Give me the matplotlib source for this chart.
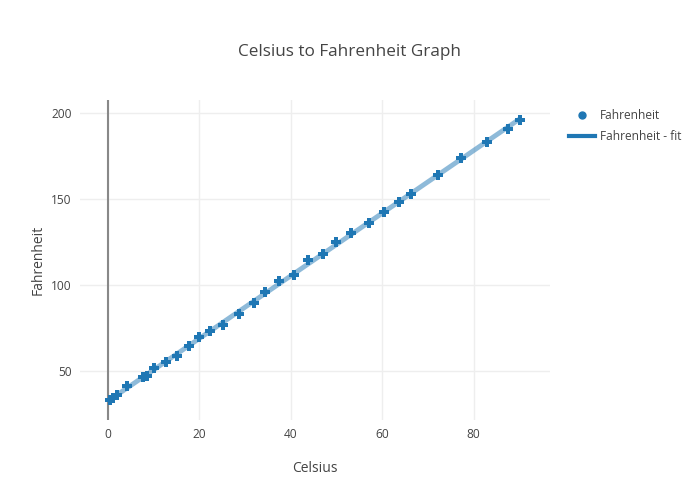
import numpy as np
import matplotlib
matplotlib.use('Agg')
import matplotlib.pyplot as plt
from matplotlib.lines import Line2D

plt.rcParams['font.family'] = ['Open Sans', 'DejaVu Sans']

# Data
celsius = [0.4, 1.2, 1.9, 4.1, 7.6, 8.5, 10.1, 12.8, 15.2, 17.7, 20.0, 22.3,
           25.2, 28.6, 31.9, 34.4, 37.4, 40.8, 43.7, 47.0, 49.9, 53.1, 57.2,
           60.5, 63.6, 66.2, 72.1, 77.2, 82.9, 87.5, 90.1]
fahrenheit = [33.1, 34.1, 36.0, 41.3, 46.3, 47.1, 51.6, 55.0, 58.5, 64.7, 69.8,
              73.4, 76.7, 83.3, 89.7, 96.1, 102.3, 105.8, 114.4, 118.0, 125.2,
              130.1, 135.9, 142.3, 148.4, 152.7, 164.0, 173.8, 183.3, 190.9, 196.0]
x_ticks = [0, 20, 40, 60, 80]
y_ticks = [50, 100, 150, 200]

# linear fit of the points
slope, intercept = np.polyfit(celsius, fahrenheit, 1)
fit_x = np.array([min(celsius), max(celsius)])
fit_y = slope * fit_x + intercept

fig = plt.figure(figsize=(7, 5), dpi=100)
ax = fig.add_axes([80 / 700, 80 / 500, 470 / 700, 320 / 500])

blue = '#1f77b4'
ax.plot(fit_x, fit_y, color=blue, alpha=0.5, linewidth=3.5, solid_capstyle='butt', zorder=2)
ax.plot(celsius, fahrenheit, linestyle='none', marker='P', markersize=6.5,
        color=blue, markeredgewidth=0, zorder=3)

ax.set_xlim(-6.1, 96.7)
ax.set_ylim(21.5, 207.6)
ax.set_xticks(x_ticks)
ax.set_yticks(y_ticks)
ax.axvline(0, color='#888888', linewidth=1.5, zorder=1)
ax.grid(True, color='#eeeeee', linewidth=1)
ax.set_axisbelow(True)
for s in ax.spines.values():
    s.set_visible(False)
ax.tick_params(length=0, labelsize=8.6, labelcolor='#444444', pad=6)

ax.set_xlabel('Celsius', fontsize=10, color='#444444', labelpad=14)
ax.set_ylabel('Fahrenheit', fontsize=10, color='#444444', labelpad=4)
fig.suptitle('Celsius to Fahrenheit Graph', fontsize=12.3, color='#444444', y=0.912)

handles = [Line2D([], [], linestyle='none', marker='o', markersize=5, color=blue),
           Line2D([], [], color=blue, linewidth=3)]
fig.legend(handles, ['Fahrenheit', 'Fahrenheit - fit'], loc='upper left',
           bbox_to_anchor=(564 / 700, 1 - 104 / 500), frameon=False,
           fontsize=8.6, labelcolor='#444444', handlelength=2.2, handletextpad=0.4,
           borderaxespad=0, labelspacing=0.7)

fig.savefig('out.png', dpi=100)
